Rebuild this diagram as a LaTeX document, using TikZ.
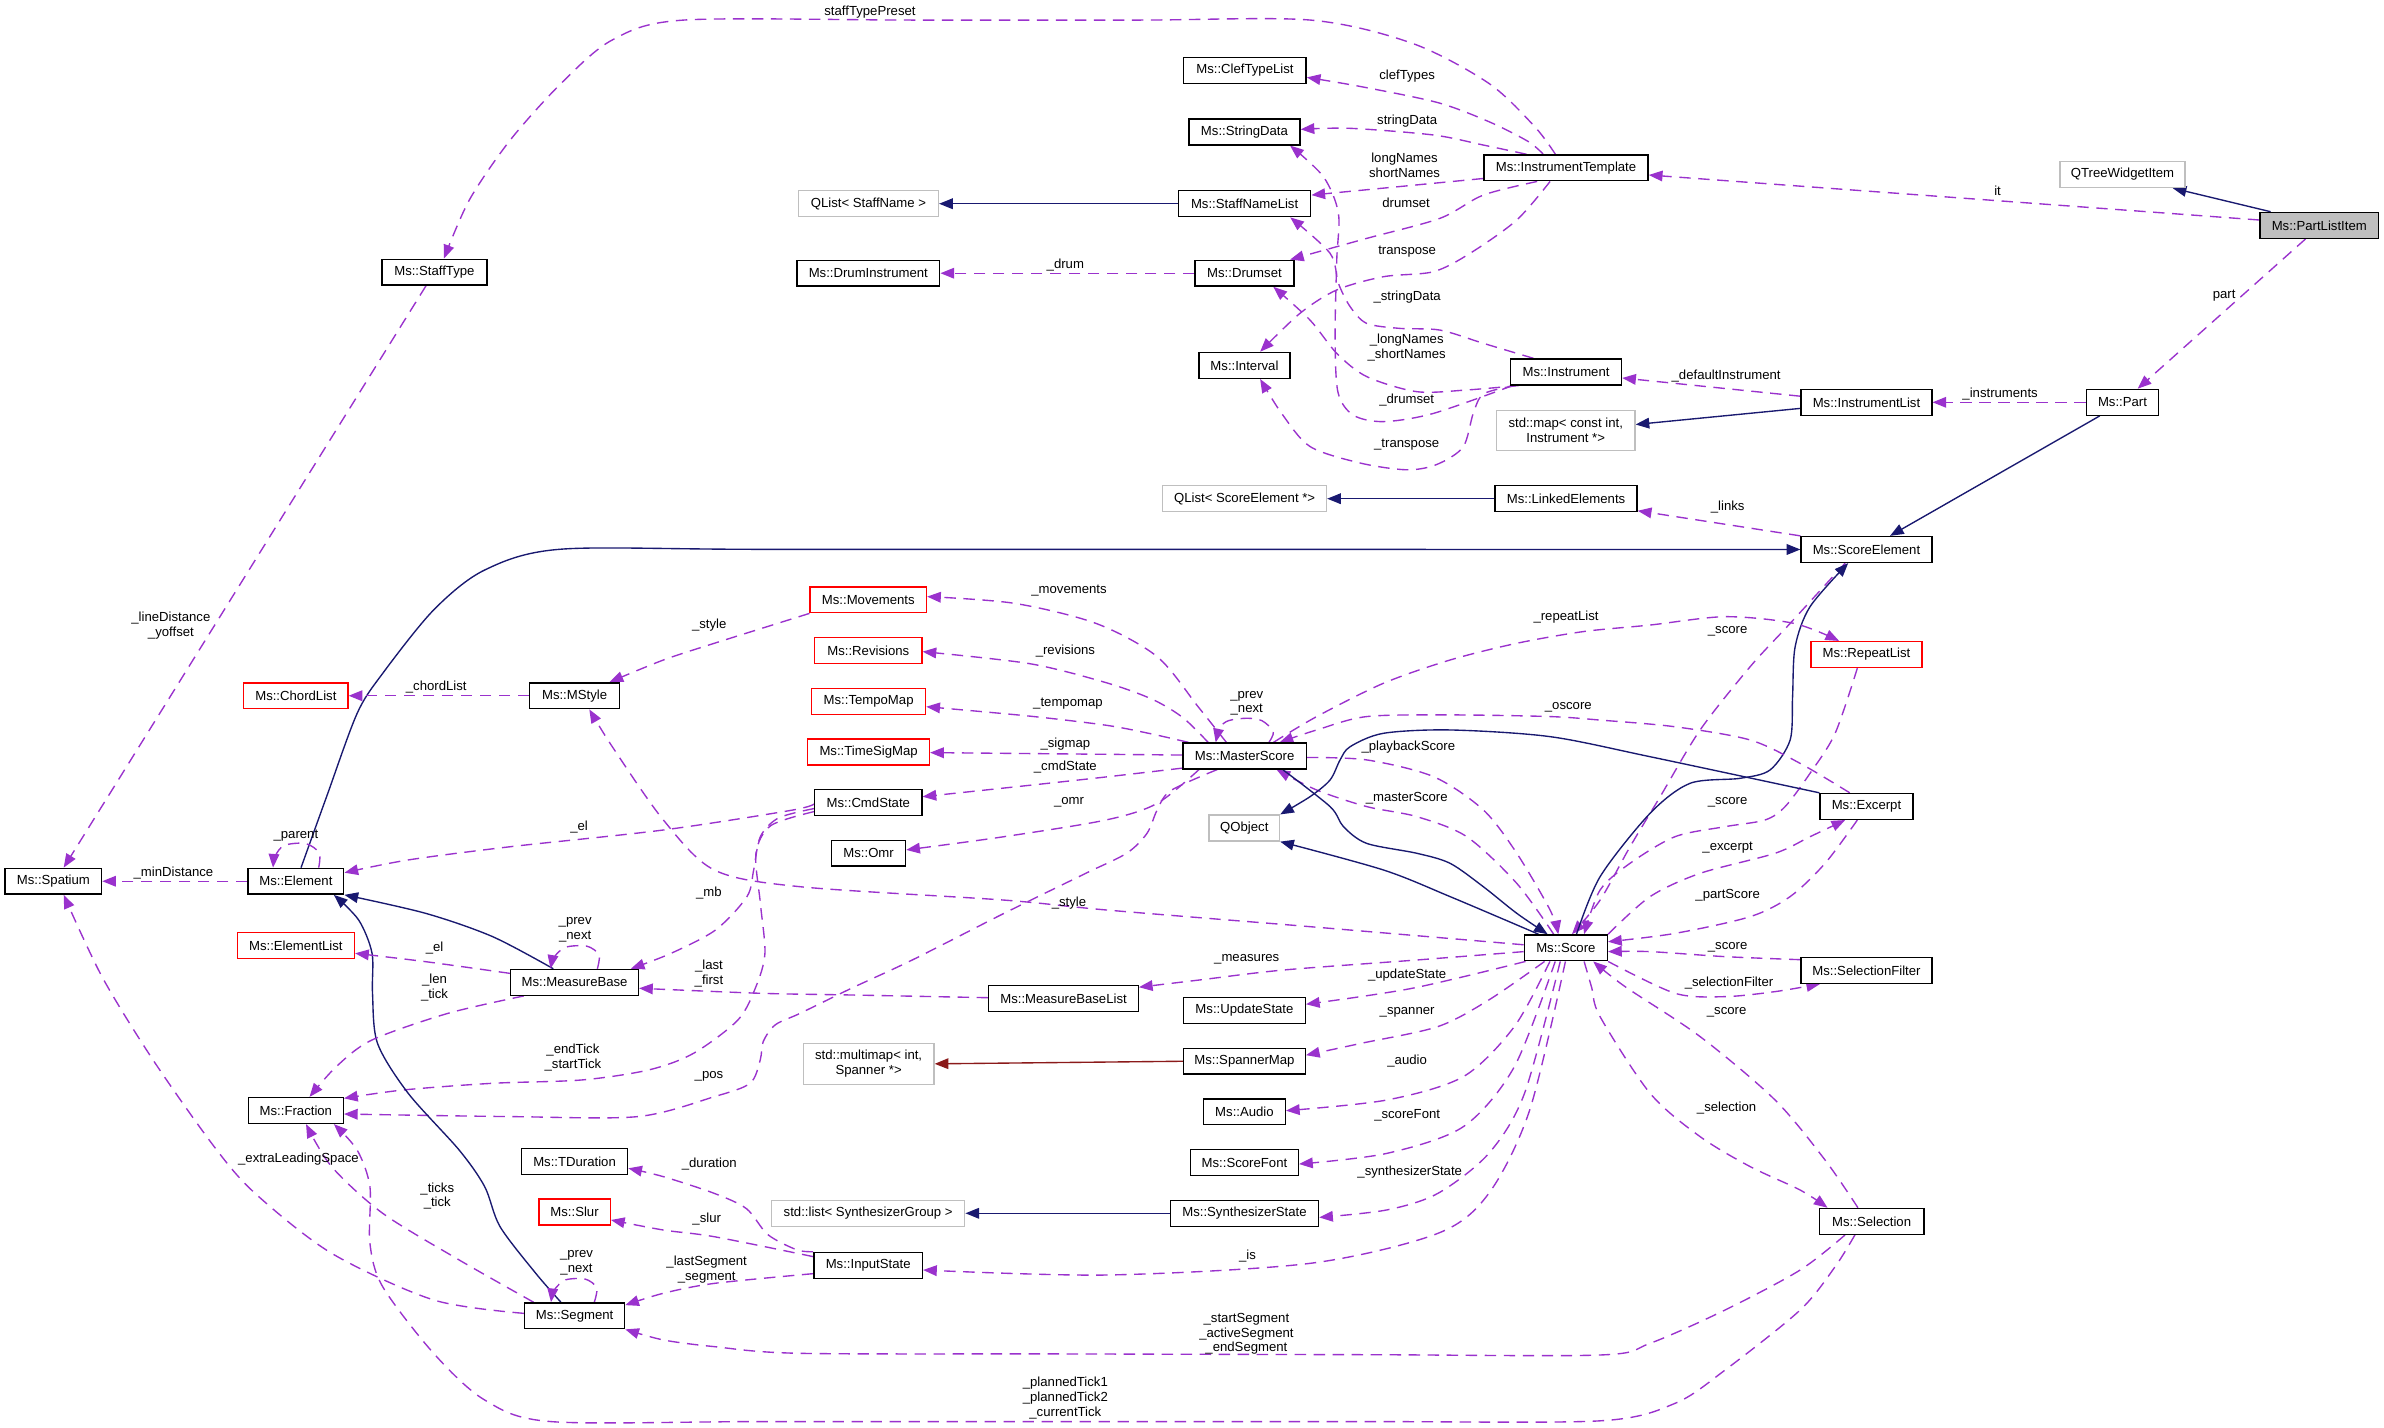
\documentclass[tikz,border=0pt]{standalone}
\usepackage{fontspec}
\setmainfont{Liberation Sans}
\usetikzlibrary{arrows.meta,backgrounds}
\definecolor{depc}{HTML}{9A32CD}
\definecolor{inhc}{HTML}{191970}
\definecolor{tplc}{HTML}{8B1A1A}
\definecolor{gryc}{HTML}{BFBFBF}
\newcommand{\dgfont}{\fontsize{8.65pt}{9.6pt}\selectfont}
\tikzset{
  cls/.style={draw=black, line width=0.9pt, minimum height=17pt, inner xsep=2pt, inner ysep=0pt, font=\dgfont, fill=white},
  ext/.style={cls, draw=gryc},
  redb/.style={cls, draw=red},
  lbl/.style={font=\dgfont, inner sep=0pt, align=center},
  usage/.style={draw=depc, line width=0.9pt, dash pattern=on 7.5pt off 5pt, -{Triangle[length=9pt,width=7pt]}},
  inher/.style={draw=inhc, line width=0.9pt, -{Triangle[length=9pt,width=7pt]}},
  templ/.style={draw=tplc, line width=0.9pt, -{Triangle[length=9pt,width=7pt]}},
  sm/.style={smooth, tension=0.5}
}
\begin{document}
\begin{tikzpicture}[x=1pt,y=-1pt]
\useasboundingbox (0,0) rectangle (1568,939);
% ---------- nodes ----------
\node[cls, fill=gryc, minimum width=78pt] (PartListItem) at (1525.4,148.2) {Ms::PartListItem};
\node[ext, minimum width=82pt] (QTreeWidgetItem) at (1396,114.8) {QTreeWidgetItem};
\node[cls, minimum width=108pt] (InstrumentTemplate) at (1030,110.4) {Ms::InstrumentTemplate};
\node[cls, minimum width=47.4pt] (Part) at (1396,264.6) {Ms::Part};
\node[cls, minimum width=86pt] (InstrumentList) at (1227.6,264.6) {Ms::InstrumentList};
\node[cls, minimum width=73pt] (Instrument) at (1030,244.6) {Ms::Instrument};
\node[ext, minimum width=91pt, minimum height=26.4pt, align=center] (StdMap) at (1029.8,283.2) {std::map< const int,\\Instrument *>};
\node[cls, minimum width=80.5pt] (ClefTypeList) at (818.8,46.4) {Ms::ClefTypeList};
\node[cls, minimum width=73pt] (StringData) at (818.5,86.8) {Ms::StringData};
\node[cls, minimum width=87pt] (StaffNameList) at (818.6,134) {Ms::StaffNameList};
\node[ext, minimum width=92pt] (QListStaffName) at (571.2,134) {QList< StaffName >};
\node[cls, minimum width=94pt] (DrumInstrument) at (571.1,179.7) {Ms::DrumInstrument};
\node[cls, minimum width=65pt] (Drumset) at (818.5,179.7) {Ms::Drumset};
\node[cls, minimum width=60pt] (Interval) at (818.5,240.3) {Ms::Interval};
\node[cls, minimum width=69pt] (StaffType) at (285.7,179) {Ms::StaffType};
\node[ext, minimum width=107.7pt] (QListScoreElement) at (818.6,328) {QList< ScoreElement *>};
\node[cls, minimum width=93.5pt] (LinkedElements) at (1030,328) {Ms::LinkedElements};
\node[cls, minimum width=86pt] (ScoreElement) at (1227.6,361.4) {Ms::ScoreElement};
\node[redb, minimum width=73pt] (RepeatList) at (1227.6,430.5) {Ms::RepeatList};
\node[cls, minimum width=61pt] (Excerpt) at (1227.6,530.4) {Ms::Excerpt};
\node[cls, minimum width=86pt] (SelectionFilter) at (1227.6,638.2) {Ms::SelectionFilter};
\node[cls, minimum width=69pt] (Selection) at (1231,803.3) {Ms::Selection};
\node[cls, minimum width=54.6pt] (Score) at (1029.9,623.4) {Ms::Score};
\node[cls, minimum width=81pt] (MasterScore) at (818.6,497.2) {Ms::MasterScore};
\node[ext, minimum width=46.3pt] (QObject) at (818.4,544.6) {QObject};
\node[redb, minimum width=76.5pt] (Movements) at (571.1,394.5) {Ms::Movements};
\node[redb, minimum width=70.5pt] (Revisions) at (571.1,427.8) {Ms::Revisions};
\node[redb, minimum width=75pt] (TempoMap) at (571.3,461.4) {Ms::TempoMap};
\node[redb, minimum width=80pt] (TimeSigMap) at (571.3,494.6) {Ms::TimeSigMap};
\node[cls, minimum width=70.5pt] (CmdState) at (571.1,527.8) {Ms::CmdState};
\node[cls, minimum width=48.6pt] (Omr) at (571.3,561.1) {Ms::Omr};
\node[cls, minimum width=63.4pt] (Spatium) at (35.1,579.6) {Ms::Spatium};
\node[cls, minimum width=63pt] (Element) at (194.6,579.6) {Ms::Element};
\node[redb, minimum width=68.5pt] (ChordList) at (194.6,457.6) {Ms::ChordList};
\node[cls, minimum width=59pt] (MStyle) at (377.9,457.6) {Ms::MStyle};
\node[redb, minimum width=77pt] (ElementList) at (194.6,621.8) {Ms::ElementList};
\node[cls, minimum width=84pt] (MeasureBase) at (377.9,646.1) {Ms::MeasureBase};
\node[cls, minimum width=62.4pt] (Fraction) at (194.6,730.4) {Ms::Fraction};
\node[cls, minimum width=69.8pt] (TDuration) at (377.9,763.9) {Ms::TDuration};
\node[redb, minimum width=47pt] (Slur) at (377.9,797.1) {Ms::Slur};
\node[cls, minimum width=65.8pt] (Segment) at (377.9,865.4) {Ms::Segment};
\node[cls, minimum width=98.3pt] (MeasureBaseList) at (699.5,656.8) {Ms::MeasureBaseList};
\node[cls, minimum width=80pt] (UpdateState) at (818.5,664.5) {Ms::UpdateState};
\node[ext, minimum width=86pt, minimum height=27pt, align=center] (Multimap) at (571.3,699.7) {std::multimap< int,\\Spanner *>};
\node[cls, minimum width=80pt] (SpannerMap) at (818.5,698) {Ms::SpannerMap};
\node[cls, minimum width=53.7pt] (Audio) at (818.5,731.3) {Ms::Audio};
\node[cls, minimum width=71pt] (ScoreFont) at (818.5,764.6) {Ms::ScoreFont};
\node[cls, minimum width=97.4pt] (SynthesizerState) at (818.5,798) {Ms::SynthesizerState};
\node[ext, minimum width=127pt] (ListSynth) at (571,798) {std::list< SynthesizerGroup >};
\node[cls, minimum width=71.4pt] (InputState) at (571,832.2) {Ms::InputState};
% ---------- labels ----------
\node[lbl] (l01) at (1313.8,125.4) {it};
\node[lbl] (l02) at (1462.8,194.5) {part};
\node[lbl] (l03) at (1315.5,259.4) {\_instruments};
\node[lbl] (l04) at (1135.3,247.1) {\_defaultInstrument};
\node[lbl] (l05) at (572.2,7.7) {staffTypePreset};
\node[lbl] (l06) at (925.5,49.8) {clefTypes};
\node[lbl] (l07) at (925.5,79.4) {stringData};
\node[lbl] (l08) at (923.8,108.8) {longNames\\shortNames};
\node[lbl] (l09) at (924.8,133.7) {drumset};
\node[lbl] (l10) at (925.5,165.5) {transpose};
\node[lbl] (l11) at (925.5,195.1) {\_stringData};
\node[lbl] (l12) at (925.2,228.5) {\_longNames\\\_shortNames};
\node[lbl] (l13) at (925.2,263.1) {\_drumset};
\node[lbl] (l14) at (925.2,292.7) {\_transpose};
\node[lbl] (l15) at (700.7,174.3) {\_drum};
\node[lbl] (l16) at (1136.3,333.2) {\_links};
\node[lbl] (l17) at (112.4,411.4) {\_lineDistance\\\_yoffset};
\node[lbl] (l18) at (466.5,411.1) {\_style};
\node[lbl] (l19) at (286.9,452.1) {\_chordList};
\node[lbl] (l20) at (703.1,388.5) {\_movements};
\node[lbl] (l21) at (700.7,428) {\_revisions};
\node[lbl] (l22) at (702.4,463) {\_tempomap};
\node[lbl] (l23) at (700.7,489.3) {\_sigmap};
\node[lbl] (l24) at (700.7,504.2) {\_cmdState};
\node[lbl] (l25) at (703.1,527.9) {\_omr};
\node[lbl] (l26) at (820,462.6) {\_prev\\\_next};
\node[lbl] (l27) at (1030,405.6) {\_repeatList};
\node[lbl] (l28) at (1031.5,465.4) {\_oscore};
\node[lbl] (l29) at (926.3,491.1) {\_playbackScore};
\node[lbl] (l30) at (925.2,525.1) {\_masterScore};
\node[lbl] (l31) at (1136.3,415.5) {\_score};
\node[lbl] (l32) at (1136.3,527.9) {\_score};
\node[lbl] (l33) at (1136.3,557.5) {\_excerpt};
\node[lbl] (l34) at (1136.3,589.1) {\_partScore};
\node[lbl] (l35) at (1136.3,623.3) {\_score};
\node[lbl] (l36) at (1137.2,646.8) {\_selectionFilter};
\node[lbl] (l37) at (1135.6,666) {\_score};
\node[lbl] (l38) at (1135.6,728.5) {\_selection};
\node[lbl] (l39) at (380.9,543.7) {\_el};
\node[lbl] (l40) at (466.3,587.1) {\_mb};
\node[lbl] (l41) at (194.6,549.9) {\_parent};
\node[lbl] (l42) at (114.1,574) {\_minDistance};
\node[lbl] (l43) at (285.8,623.7) {\_el};
\node[lbl] (l44) at (378.3,611.6) {\_prev\\\_next};
\node[lbl] (l45) at (466.3,640.4) {\_last\\\_first};
\node[lbl] (l46) at (285.8,649.7) {\_len\\\_tick};
\node[lbl] (l47) at (376.8,695.5) {\_endTick\\\_startTick};
\node[lbl] (l48) at (466.3,707.7) {\_pos};
\node[lbl] (l49) at (703.1,593.7) {\_style};
\node[lbl] (l50) at (820,631) {\_measures};
\node[lbl] (l51) at (925.5,641.3) {\_updateState};
\node[lbl] (l52) at (925.5,665.8) {\_spanner};
\node[lbl] (l53) at (925.5,697.6) {\_audio};
\node[lbl] (l54) at (925.5,733.8) {\_scoreFont};
\node[lbl] (l55) at (927.2,770.6) {\_synthesizerState};
\node[lbl] (l56) at (820.5,825.9) {\_is};
\node[lbl] (l57) at (466.5,765.8) {\_duration};
\node[lbl] (l58) at (464.8,802) {\_slur};
\node[lbl] (l59) at (464.8,835) {\_lastSegment\\\_segment};
\node[lbl] (l60) at (379.2,830.6) {\_prev\\\_next};
\node[lbl] (l61) at (287.6,786.6) {\_ticks\\\_tick};
\node[lbl] (l62) at (196.3,762.3) {\_extraLeadingSpace};
\node[lbl] (l63) at (819.8,877.5) {\_startSegment\\\_activeSegment\\\_endSegment};
\node[lbl] (l64) at (700.7,919.5) {\_plannedTick1\\\_plannedTick2\\\_currentTick};
% ---------- edges ----------
\begin{scope}[on background layer]
\fill[white] (0,0) rectangle (1568,939);
\draw[inher] ([xshift=-32pt]PartListItem.north) -- ([xshift=33pt]QTreeWidgetItem.south);
\draw[usage] ([yshift=3.5pt]PartListItem.west) -- ([yshift=-4.7pt]InstrumentTemplate.east);
\draw[usage] ([xshift=-9pt]PartListItem.south) -- ([xshift=10pt]Part.north);
\draw[usage] (Part.west) -- (InstrumentList.east);
\draw[inher] ([xshift=-15pt]Part.south) -- ([xshift=15.5pt]ScoreElement.north);
\draw[usage] ([yshift=4pt]InstrumentList.west) -- ([yshift=-4pt]Instrument.east);
\draw[inher] ([yshift=-4pt]InstrumentList.west) -- ([yshift=4pt]StdMap.east);
\draw[usage] plot[sm] coordinates {([xshift=-7pt]InstrumentTemplate.north) (1009.4,83.3) (979.2,54.8) (928.9,28.5) (861.8,13.2) (750,13.2) (600,13.2) (449.7,13.2) (402.7,26.3) (369.1,54.8) (335.6,92.1) (308.7,131.5) ([xshift=6.3pt]StaffType.north)};
\draw[usage] plot[sm] coordinates {([xshift=-15pt]InstrumentTemplate.north) (1005,93) (979.2,80) (945.7,67.5) (895.3,57) ([yshift=-4.5pt]ClefTypeList.east)};
\draw[usage] plot[sm] coordinates {([xshift=-26pt]InstrumentTemplate.north) (975.6,95.4) (942.8,88.8) (888,84.4) ([yshift=1.7pt]StringData.east)};
\draw[usage] ([yshift=-7pt]InstrumentTemplate.west) -- ([yshift=5.7pt]StaffNameList.east);
\draw[usage] plot[sm] coordinates {([xshift=-19pt]InstrumentTemplate.south) (975.6,128.3) (947.1,143.6) (898.9,156.8) ([xshift=30pt]Drumset.north)};
\draw[usage] plot[sm] coordinates {([xshift=-10.5pt]InstrumentTemplate.south) (997.6,144.7) (966.9,166.6) (942.8,178.7) (909.9,182) (879.2,190.7) (855,206.1) ([xshift=10.3pt]Interval.north)};
\draw[usage] (Drumset.west) -- (DrumInstrument.east);
\draw[inher] (StaffNameList.west) -- (QListStaffName.east);
\draw[usage] plot[sm] coordinates {([xshift=2pt]Instrument.south west) (942.8,271.9) (909.9,277.3) (890,273) (880,258) (878.1,221.4) (879.2,171) (880.3,140.3) (870.4,116.2) ([xshift=30pt]StringData.south)};
\draw[usage] plot[sm] coordinates {([xshift=-21.5pt]Instrument.north) (975.6,225.8) (947.1,217.1) (920.8,216) (898.9,212.7) (888,201.7) (880.3,186.4) (874.8,166.6) ([xshift=30pt]StaffNameList.south)};
\draw[usage] plot[sm] coordinates {([xshift=6pt]Instrument.south west) (964.7,256.5) (931.8,257.6) (898.9,247.7) (879.2,232.4) (861.6,210.5) ([xshift=19pt]Drumset.south)};
\draw[usage] plot[sm] coordinates {([xshift=4pt]Instrument.south west) (975.9,259) (969,271.8) (962.3,294) (945,305.5) (925.5,309) (895.3,304.7) (861.8,293.8) (843,272) ([xshift=10.3pt]Interval.south)};
\draw[inher] (LinkedElements.west) -- (QListScoreElement.east);
\draw[usage] (ScoreElement.north west) -- ([yshift=1pt]LinkedElements.south east);
\draw[inher] plot[sm] coordinates {([xshift=3.4pt]Element.north) (214.8,524) (234.9,469.2) (251.7,442.9) (285.2,401.2) (318.8,374.9) (369.1,361.2) (500,361.3) (800,361.3) (1000,361.4) (ScoreElement.west)};
\draw[usage] plot[sm] coordinates {([xshift=-12pt]MasterScore.north) (788,464.8) (761.1,431.9) (720.8,410) (667.1,396.8) ([yshift=2.1pt]Movements.east)};
\draw[usage] plot[sm] coordinates {([xshift=-24pt]MasterScore.north) (778,472) (758,460) (727.5,449) (677.2,436.5) ([yshift=-0.8pt]Revisions.east)};
\draw[usage] plot[sm] coordinates {([xshift=-37pt]MasterScore.north) (756.4,482.5) (727.5,477) (677.2,471) ([yshift=-3.4pt]TempoMap.east)};
\draw[usage] ([yshift=0.6pt]MasterScore.west) -- ([yshift=-0.4pt]TimeSigMap.east);
\draw[usage] plot[sm] coordinates {([yshift=-8pt]MasterScore.west) (727.5,511) (677.2,516.5) ([yshift=3.8pt]CmdState.east)};
\draw[usage] plot[sm] coordinates {([xshift=-30pt]MasterScore.south) (761.1,528.4) (727.5,539.3) (660.4,550.3) ([yshift=2.1pt]Omr.east)};
\draw[usage] plot[sm] coordinates {([xshift=-18pt]MasterScore.south) (770,520) (761.1,532.7) (754.4,548.1) (741,561.2) (714.1,574.4) (660.4,600.7) (600,631.4) (560,650) (526.2,666.5) (510,674) (502,685) (500,697.2) (493.3,712.5) (469.8,721.3) (419.5,734.4) (335.6,734.4) ([yshift=-2.3pt]Fraction.east)};
\draw[usage] plot[sm] coordinates {([yshift=-1pt]CmdState.west) (520.1,533) (436.3,545.9) (335.6,556.9) (268.5,565.6) ([yshift=5.6pt]Element.east)};
\draw[usage] plot[sm] coordinates {([yshift=-4pt]CmdState.west) (512,538) (500.1,550.3) (495.7,572.2) (491.3,589.7) (470.7,611.6) (441.4,627) ([xshift=37pt]MeasureBase.north)};
\draw[usage] plot[sm] coordinates {([yshift=-6pt]CmdState.west) (507,543) (497.2,561.2) (500.1,594.1) (503.1,627) (497.2,648.9) (485.4,670.8) (456.1,692.8) (426.7,703.7) (382.7,710.3) (323.9,712.5) (265.2,716.9) ([yshift=8pt]Fraction.east)};
\draw[usage] plot[sm] coordinates {([xshift=15pt]Element.north) (210,561) (201,554.8) (187,556) (181,563) ([xshift=-15pt]Element.north)};
\draw[usage] (Element.west) -- (Spatium.east);
\draw[usage] ([xshift=-5.5pt]StaffType.south) -- ([xshift=6.8pt]Spatium.north);
\draw[usage] (MStyle.west) -- (ChordList.east);
\draw[usage] plot[sm] coordinates {(Movements.south west) (469.8,423.1) (436.3,434.1) ([xshift=23pt]MStyle.north)};
\draw[usage] plot[sm] coordinates {([yshift=2pt]Score.west) (861.8,609.5) (727.5,598.5) (660.4,592) (526.2,583.2) (469.8,572.2) (436.3,539.3) (402.7,491.1) ([xshift=9.7pt]MStyle.south)};
\draw[inher] plot[sm] coordinates {([xshift=-14pt]MeasureBase.north) (323.9,616) (279.9,600.7) (Element.south east)};
\draw[inher] plot[sm] coordinates {([xshift=-9pt]Segment.north) (352.4,837.5) (328.9,806.8) (318.8,780.5) (302,756.4) (268.5,719.1) (248.3,686.2) (245,653.3) (244.7,627) (235.9,605.1) ([xshift=25pt]Element.south)};
\draw[usage] plot[sm] coordinates {([xshift=15pt]MeasureBase.north) (394,628) (386,622.3) (372,623) (364.5,629.5) ([xshift=-15.8pt]MeasureBase.north)};
\draw[usage] plot[sm] coordinates {([yshift=5.9pt]MeasureBase.west) (279.9,632.5) ([yshift=-5.2pt]ElementList.east)};
\draw[usage] plot[sm] coordinates {([xshift=-33.4pt]MeasureBase.south) (294.6,666.5) (244.7,684) (221.2,701.5) ([xshift=9pt]Fraction.north)};
\draw[usage] plot[sm] coordinates {([yshift=0.6pt]MeasureBaseList.west) (558.8,654.4) (500.1,653.3) ([yshift=-3.9pt]MeasureBase.east)};
\draw[usage] plot[sm] coordinates {([yshift=-2.5pt]Score.west) (931.8,631.4) (844.1,638) (789.3,644.5) ([yshift=7.5pt]MeasureBaseList.east)};
\draw[usage] plot[sm] coordinates {([xshift=-26.5pt]Score.south) (928.9,650) ([yshift=4pt]UpdateState.east)};
\draw[usage] plot[sm] coordinates {([xshift=-14pt]Score.south) (979.2,657.7) (945.7,675.2) (895.3,686.2) ([yshift=4pt]SpannerMap.east)};
\draw[usage] plot[sm] coordinates {([xshift=-10.5pt]Score.south) (996,675.2) (962.5,708.1) (912.1,723.5) ([yshift=0.8pt]Audio.east)};
\draw[usage] plot[sm] coordinates {([xshift=-7pt]Score.south) (996,701.6) (962.5,741) (912.1,758.6) ([yshift=-1pt]ScoreFont.east)};
\draw[usage] plot[sm] coordinates {([xshift=-3.7pt]Score.south) (1002.7,719.1) (979.2,758.6) (945.7,784.9) (912.1,795.8) ([yshift=-2.7pt]SynthesizerState.east)};
\draw[usage] plot[sm] coordinates {([xshift=-0.3pt]Score.south) (1006.1,730.1) (979.2,784.9) (945.7,811.2) (861.8,830.9) (727.5,838.6) ([yshift=-3.1pt]InputState.east)};
\draw[inher] (SynthesizerState.west) -- (ListSynth.east);
\draw[templ] (SpannerMap.west) -- (Multimap.east);
\draw[usage] plot[sm] coordinates {(InputState.north west) (524,822) (505,812) (491,795) (469.8,784.9) (436.3,773.9) ([yshift=-4.5pt]TDuration.east)};
\draw[usage] plot[sm] coordinates {([yshift=5.7pt]InputState.west) (469.8,813.4) (436.3,809) ([yshift=-5.3pt]Slur.east)};
\draw[usage] plot[sm] coordinates {([yshift=-5.5pt]InputState.west) (469.8,844.1) (436.3,850.6) ([yshift=7pt]Segment.east)};
\draw[usage] plot[sm] coordinates {([xshift=13pt]Segment.north) (392.5,847) (385,841.3) (372,841.8) (364.5,848.5) ([xshift=-15.5pt]Segment.north)};
\draw[usage] plot[sm] coordinates {([xshift=-27pt]Segment.north) (302,828.7) (251.7,798) (218.1,767.3) ([xshift=6.7pt]Fraction.south)};
\draw[usage] plot[sm] coordinates {([yshift=1.6pt]Segment.west) (285.2,855) (218.1,824.3) (167.8,784.9) (140.9,754.2) (100.7,697.2) (67.1,642.4) ([xshift=6.8pt]Spatium.south)};
\draw[usage] plot[sm] coordinates {([xshift=-11pt]Selection.south) (1207,833.1) (1184,861.6) (1134.6,901.1) (1101.7,923) (1052.4,934.5) (900,935) (700,935) (500,935) (362.4,935) (318.8,920.8) (285.2,890.1) (251.7,846.3) (243.3,817.8) (243.3,780.5) (234.9,756.4) ([xshift=25pt]Fraction.south)};
\draw[usage] plot[sm] coordinates {([xshift=-17.5pt]Selection.south) (1184,835.3) (1134.6,861.6) (1085.3,883.5) (1052.4,891.2) (900,891) (700,890.5) (526.2,890.1) (469.8,885.7) (436.3,881.3) (Segment.south east)};
\draw[usage] plot[sm] coordinates {([xshift=12pt]Score.south) (1047,650) (1052.4,668.7) (1085.3,719.1) (1118.2,747.6) (1151.1,767.3) (1184,782.7) ([xshift=-29pt]Selection.north)};
\draw[usage] plot[sm] coordinates {([xshift=-9pt]Selection.north) (1200.4,763) (1167.5,723.5) (1118.2,681.8) (1068.8,648.9) ([xshift=18pt]Score.south)};
\draw[usage] plot[sm] coordinates {([yshift=7pt]SelectionFilter.west) (1134.6,629.2) (1085.3,625.9) ([yshift=-2.5pt]Score.east)};
\draw[usage] plot[sm] coordinates {(Score.south east) (1101.7,653.3) (1134.6,655.5) (1167.5,652.2) ([xshift=-30.5pt]SelectionFilter.south)};
\draw[usage] plot[sm] coordinates {([xshift=-6pt]Excerpt.south) (1200.4,567.8) (1177.4,589.7) (1151.1,602.9) (1101.7,613.9) ([yshift=4pt]Score.east)};
\draw[usage] plot[sm] coordinates {(Score.north east) (1085.3,589.7) (1118.2,574.4) (1167.5,561.2) (1190.5,550.3) ([xshift=-14pt]Excerpt.south)};
\draw[usage] plot[sm] coordinates {([xshift=-6pt]RepeatList.south) (1207,482.3) (1190.5,508.6) (1174.1,530.5) (1160.9,539.3) (1134.6,543.7) (1101.7,550.3) (1072.1,567.8) (1052.4,585.4) ([xshift=12pt]Score.north)};
\draw[usage] plot[sm] coordinates {([xshift=-14pt]ScoreElement.south) (1177.4,410) (1151.1,438.5) (1118.2,480.1) (1091.9,524) (1072.1,556.9) (1052.4,592) ([xshift=4pt]Score.north)};
\draw[inher] plot[sm] coordinates {([xshift=7pt]Score.north) (1052.4,576.6) (1085.3,534.9) (1111.6,515.2) (1144.5,511.9) (1164.2,506.4) (1177.4,486.7) (1179,458.2) (1180.7,425.3) (1190.5,399) ([xshift=-12pt]ScoreElement.south)};
\draw[usage] plot[sm] coordinates {([xshift=-11pt]Excerpt.north) (1184,502.1) (1151.1,486.7) (1101.7,478) (1052.4,473.6) (1019.5,471.3) (953.7,470.2) (898.9,471.3) (866,480.1) ([xshift=23pt]MasterScore.north)};
\draw[usage] plot[sm] coordinates {([xshift=19pt]MasterScore.north) (866,471.3) (909.9,449.4) (953.7,434.1) (997.6,423.1) (1041.4,415.4) (1085.3,411.1) (1134.6,405.6) (1179.9,410) ([xshift=-18pt]RepeatList.north)};
\draw[usage] plot[sm] coordinates {([yshift=-1pt]MasterScore.east) (898.9,499.8) (942.8,510.8) (975.6,532.7) (997.6,561.2) (1019.5,598.5) ([xshift=-5pt]Score.north)};
\draw[usage] plot[sm] coordinates {([xshift=-8pt]Score.north) (997.6,581) (964.7,550.3) (931.8,537.1) (898.9,530.5) (866,519.6) ([xshift=21pt]MasterScore.south)};
\draw[inher] plot[sm] coordinates {([xshift=25pt]MasterScore.south) (874.8,530.5) (883.6,543.7) (898.9,554.7) (931.8,561.2) (953.7,567.8) (975.6,583.2) (997.6,600.7) ([xshift=-12pt]Score.north)};
\draw[inher] plot[sm] coordinates {([xshift=-18pt]Score.north) (953.7,589.7) (909.9,572.2) (QObject.south east)};
\draw[inher] plot[sm] coordinates {(Excerpt.north west) (1085.3,497.7) (1019.5,484.5) (953.7,480.1) (909.9,482.3) (888,491.1) (881.4,499.8) (874.8,513) (861.6,524) (QObject.north east)};
\draw[usage] plot[sm] coordinates {([xshift=16pt]MasterScore.north) (837.5,481.2) (830,474) (820,472.4) (808,474) (802.4,478.5) ([xshift=-19pt]MasterScore.north)};
\end{scope}
\end{tikzpicture}
\end{document}
